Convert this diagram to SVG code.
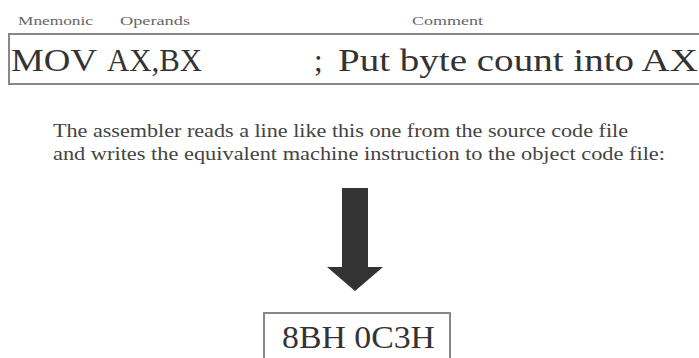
<svg xmlns="http://www.w3.org/2000/svg" width="699" height="358" viewBox="0 0 699 358">
<style>
.lbl{font-family:"Liberation Serif",serif;font-size:12px;fill:#666}
.code{font-family:"Liberation Serif",serif;font-size:31px;fill:#333}
.body{font-family:"Liberation Serif",serif;font-size:18px;fill:#444}
.box{fill:none;stroke:#888;stroke-width:2}
</style>
<rect width="699" height="358" fill="#fff"/>
<g id="labels">
<text class="lbl" x="18" y="25" textLength="75" lengthAdjust="spacingAndGlyphs">Mnemonic</text>
<text class="lbl" x="120" y="25" textLength="70" lengthAdjust="spacingAndGlyphs">Operands</text>
<text class="lbl" x="412" y="25" textLength="71" lengthAdjust="spacingAndGlyphs">Comment</text>
</g>
<g id="source-line">
<rect class="box" x="9" y="34" width="700" height="50"/>
<text class="code" x="11" y="71" textLength="86" lengthAdjust="spacingAndGlyphs">MOV</text>
<text class="code" x="107" y="71" textLength="95" lengthAdjust="spacingAndGlyphs">AX,BX</text>
<text class="code" x="314" y="71">;</text>
<text class="code" x="338" y="71" textLength="360" lengthAdjust="spacingAndGlyphs">Put byte count into AX</text>
</g>
<g id="description">
<text class="body" x="53" y="137" textLength="575" lengthAdjust="spacingAndGlyphs">The assembler reads a line like this one from the source code file</text>
<text class="body" x="53" y="160" textLength="612" lengthAdjust="spacingAndGlyphs">and writes the equivalent machine instruction to the object code file:</text>
</g>
<g id="connectors">
<path d="M342,188 H368 V267 H383 L355,291 L327,267 H342 Z" fill="#333"/>
</g>
<g id="machine-code">
<rect class="box" x="264" y="313" width="186" height="60"/>
<text class="code" x="282" y="348" textLength="153" lengthAdjust="spacingAndGlyphs">8BH 0C3H</text>
</g>
</svg>
